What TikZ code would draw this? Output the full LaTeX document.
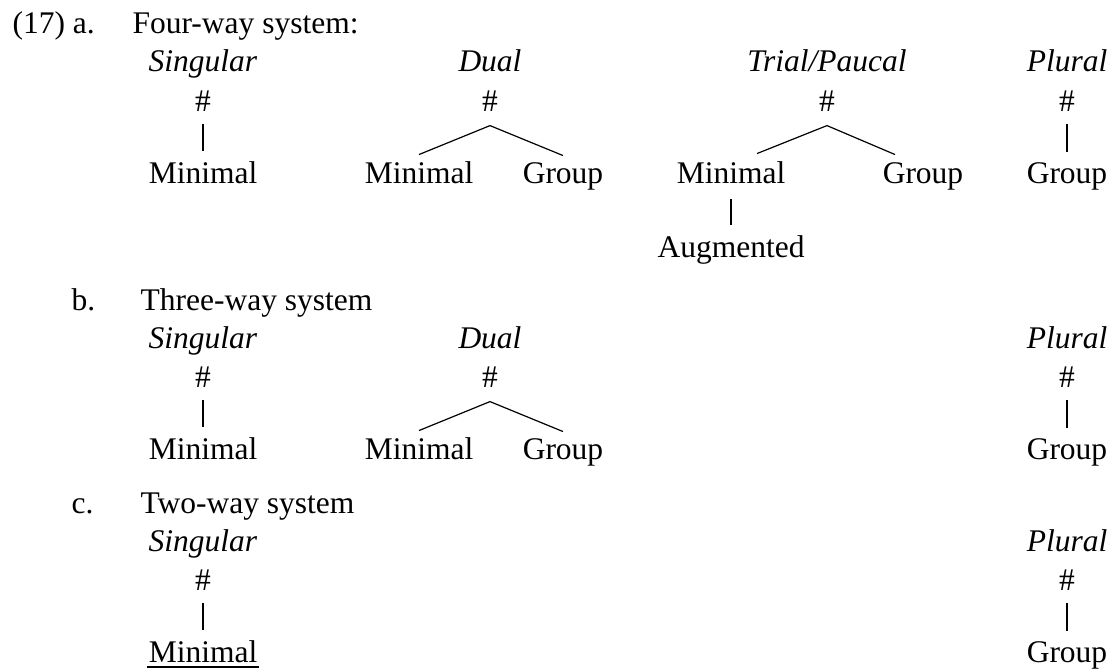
\documentclass[tikz,border=0pt]{standalone}
\usepackage{fontspec}
\setmainfont{Liberation Serif}

\begin{document}
\begin{tikzpicture}[x=1pt,y=-1pt,line width=1.2pt,
    word/.style={anchor=base,inner sep=10pt,font=\fontsize{31.5}{38}\selectfont},
    hash/.style={word,inner sep=12pt},
    head/.style={word,anchor=base west,inner sep=0pt}]
    \useasboundingbox (0,0) rectangle (1112,669);

    % a. sistema de cuatro
    \node[head] (la) at (12,34) {(17) a.};
    \node[head] (ta) at (132,34) {Four-way system:};

    \node[word] (sga) at (203,72) {\textit{Singular}};
    \node[hash] (sgha) at (203,111) {\#};
    \node[word] (sgma) at (203,183) {Minimal};
    \draw (sgha.south) -- (sgma.north);

    \node[word] (dua) at (490,72) {\textit{Dual}};
    \node[hash] (duha) at (490,111) {\#};
    \node[word] (duma) at (419,183) {Minimal};
    \node[word] (duga) at (563,183) {Group};
    \draw ([yshift=-4pt]duma.north) -- ([yshift=-2pt]duha.south) -- ([yshift=-4pt]duga.north);

    \node[word] (tra) at (827,72) {\textit{Trial/Paucal}};
    \node[hash] (trha) at (827,111) {\#};
    \node[word] (trma) at (731,183) {Minimal};
    \node[word] (trga) at (923,183) {Group};
    \node[word] (trau) at (731,257) {Augmented};
    \draw ([xshift=26pt,yshift=-3pt]trma.north) -- ([yshift=-2pt]trha.south) -- ([xshift=-28pt,yshift=-3pt]trga.north);
    \draw ([yshift=-5pt]trma.south) -- (trau.north);

    \node[word] (pla) at (1067,72) {\textit{Plural}};
    \node[hash] (plha) at (1067,111) {\#};
    \node[word] (plga) at (1067,183) {Group};
    \draw (plha.south) -- (plga.north);

    % b. sistema de tres
    \node[head] (lb) at (71,310) {b.};
    \node[head] (tb) at (140,310) {Three-way system};

    \node[word] (sgb) at (203,348) {\textit{Singular}};
    \node[hash] (sghb) at (203,387) {\#};
    \node[word] (sgmb) at (203,459) {Minimal};
    \draw (sghb.south) -- (sgmb.north);

    \node[word] (dub) at (490,348) {\textit{Dual}};
    \node[hash] (duhb) at (490,387) {\#};
    \node[word] (dumb) at (419,459) {Minimal};
    \node[word] (dugb) at (563,459) {Group};
    \draw ([yshift=-4pt]dumb.north) -- ([yshift=-2pt]duhb.south) -- ([yshift=-4pt]dugb.north);

    \node[word] (plb) at (1067,348) {\textit{Plural}};
    \node[hash] (plhb) at (1067,387) {\#};
    \node[word] (plgb) at (1067,459) {Group};
    \draw (plhb.south) -- (plgb.north);

    % c. sistema de dos
    \node[head] (lc) at (71,513) {c.};
    \node[head] (tc) at (140,513) {Two-way system};

    \node[word] (sgc) at (203,551) {\textit{Singular}};
    \node[hash] (sghc) at (203,590) {\#};
    \node[word] (sgmc) at (203,662) {Minimal};
    \draw (sghc.south) -- (sgmc.north);
    % subrayado
    \draw[line width=2.4pt] ([xshift=9pt,yshift=-5pt]sgmc.base west) -- ([xshift=-9pt,yshift=-5pt]sgmc.base east);

    \node[word] (plc) at (1067,551) {\textit{Plural}};
    \node[hash] (plhc) at (1067,590) {\#};
    \node[word] (plgc) at (1067,662) {Group};
    \draw (plhc.south) -- (plgc.north);
\end{tikzpicture}
\end{document}
